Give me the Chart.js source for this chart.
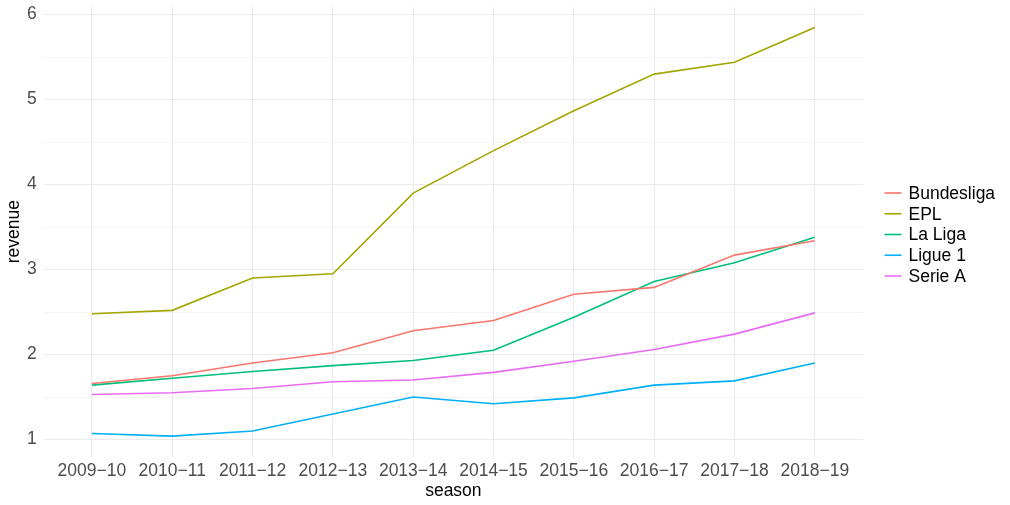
<!DOCTYPE html>
<html>
<head>
<meta charset="utf-8">
<script src="https://cdn.jsdelivr.net/npm/chart.js@4"></script>
<style>
  html, body { margin: 0; padding: 0; background: #fff; }
  #wrap { width: 1010px; height: 505px; }
</style>
</head>
<body>
<div id="wrap"><canvas id="chart"></canvas></div>
<script>
const seasons = ["2009−10", "2010−11", "2011−12", "2012−13", "2013−14",
                 "2014−15", "2015−16", "2016−17", "2017−18", "2018−19"];
const leagues = ["Bundesliga", "EPL", "La Liga", "Ligue 1", "Serie A"];
const bundesliga = [1.66, 1.75, 1.90, 2.02, 2.28, 2.40, 2.71, 2.79, 3.17, 3.34];
const epl        = [2.48, 2.52, 2.90, 2.95, 3.90, 4.40, 4.87, 5.30, 5.44, 5.85];
const laLiga     = [1.64, 1.72, 1.80, 1.87, 1.93, 2.05, 2.44, 2.86, 3.08, 3.38];
const ligue1     = [1.07, 1.04, 1.10, 1.30, 1.50, 1.42, 1.49, 1.64, 1.69, 1.90];
const serieA     = [1.53, 1.55, 1.60, 1.68, 1.70, 1.79, 1.92, 2.06, 2.24, 2.49];
const yTicks = [1, 1.5, 2, 2.5, 3, 3.5, 4, 4.5, 5, 5.5, 6];

const colors = ["#F8766D", "#A3A500", "#00BF7D", "#00B0F6", "#E76BF3"];
const series = [bundesliga, epl, laLiga, ligue1, serieA];

const font = "'Liberation Sans', Arial, sans-serif";
const fontSize = 17.5;

// ggplot-style legend to the right of the panel: short line key + label
const sideLegend = {
  id: "sideLegend",
  afterDraw(chart) {
    const c = chart.ctx;
    const x0 = chart.chartArea.right + 21.5;
    let y = 193;
    c.save();
    c.font = fontSize + "px " + font;
    c.textBaseline = "middle";
    c.textAlign = "left";
    chart.data.datasets.forEach((ds) => {
      c.strokeStyle = ds.borderColor;
      c.lineWidth = ds.borderWidth;
      c.beginPath();
      c.moveTo(x0, y);
      c.lineTo(x0 + 17, y);
      c.stroke();
      c.fillStyle = "#000";
      c.fillText(ds.label, x0 + 24, y + 1);
      y += 20.75;
    });
    c.restore();
  },
};

const ctx = document.getElementById("chart").getContext("2d");
new Chart(ctx, {
  type: "line",
  data: {
    datasets: series.map((vals, i) => ({
      label: leagues[i],
      data: vals.map((v, j) => ({ x: j, y: v })),
      borderColor: colors[i],
      backgroundColor: colors[i],
      borderWidth: 1.6,
      pointRadius: 0,
      tension: 0,
    })),
  },
  options: {
    responsive: true,
    maintainAspectRatio: false,
    animation: false,
    layout: { padding: { left: 4, right: 147, top: 7, bottom: 3.5 } },
    plugins: {
      tooltip: { enabled: false },
      legend: { display: false },
    },
    scales: {
      x: {
        type: "linear",
        min: -0.6,
        max: seasons.length - 1 + 0.6,
        afterBuildTicks: (scale) => {
          scale.ticks = seasons.map((_, i) => ({ value: i }));
        },
        grid: { color: "#ebebeb", lineWidth: 1.1, drawTicks: false },
        border: { display: false },
        ticks: {
          padding: 4,
          maxRotation: 0,
          autoSkip: false,
          color: "#4d4d4d",
          font: { family: font, size: fontSize },
          callback: (v) => seasons[v],
        },
        title: {
          display: true,
          text: "season",
          color: "#000",
          padding: { top: -5, bottom: 0 },
          font: { family: font, size: fontSize },
        },
      },
      y: {
        type: "linear",
        min: 0.8,
        max: 6.09,
        afterBuildTicks: (scale) => {
          scale.ticks = yTicks.map((v) => ({ value: v }));
        },
        afterFit: (scale) => {
          scale.paddingTop = 0;
          scale.paddingBottom = 0;
        },
        grid: {
          color: "#ebebeb",
          drawTicks: false,
          lineWidth: (c) => (Number.isInteger(c.tick.value) ? 1.1 : 0.55),
        },
        border: { display: false },
        ticks: {
          padding: 7,
          color: "#4d4d4d",
          font: { family: font, size: fontSize },
          callback: (v) => (Number.isInteger(v) ? v : ""),
        },
        title: {
          display: true,
          text: "revenue",
          color: "#000",
          padding: { top: 0, bottom: -5 },
          font: { family: font, size: fontSize },
        },
      },
    },
  },
  plugins: [sideLegend],
});
</script>
</body>
</html>
